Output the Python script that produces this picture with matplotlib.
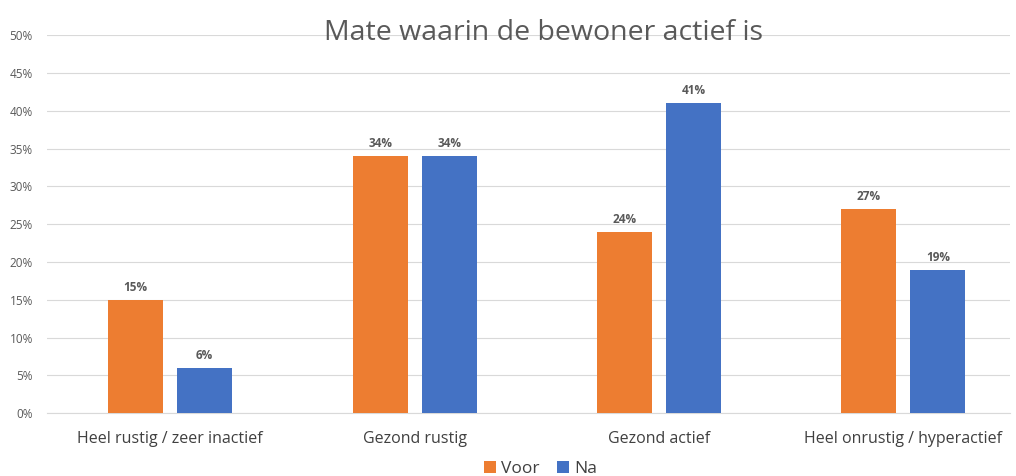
import numpy as np
import matplotlib.pyplot as plt
from matplotlib.ticker import PercentFormatter

categories = ['Heel rustig / zeer inactief', 'Gezond rustig', 'Gezond actief', 'Heel onrustig / hyperactief']
voor = [15, 34, 24, 27]
na = [6, 34, 41, 19]

plt.rcParams['font.family'] = ['Open Sans', 'DejaVu Sans']

fig = plt.figure(figsize=(10.16, 4.76), dpi=100)
ax = fig.add_axes([0.046, 0.132, 0.948, 0.794])

x = np.arange(len(categories))
w = 0.225
off = 0.141
b1 = ax.bar(x - off, voor, w, color='#ED7D31', label='Voor', zorder=3)
b2 = ax.bar(x + off, na, w, color='#4472C4', label='Na', zorder=3)

for bars in (b1, b2):
    for rect in bars:
        h = rect.get_height()
        ax.text(rect.get_x() + rect.get_width() / 2, h + 0.8, '%d%%' % h,
                ha='center', va='bottom', fontsize=8.5, color='#595959', fontweight='bold')

ax.set_xlim(-0.5055, 3.436)
ax.set_ylim(0, 50)
ax.set_yticks(np.arange(0, 51, 5))
ax.yaxis.set_major_formatter(PercentFormatter(decimals=0))
ax.set_xticks(x)
ax.set_xticklabels(categories, fontsize=11.5, color='#404040')
ax.tick_params(axis='y', labelsize=8.5, colors='#595959', length=0, pad=10)
ax.tick_params(axis='x', length=0, pad=13)
ax.grid(axis='y', color='#D9D9D9', linewidth=0.8, zorder=0)
for s in ['top', 'right', 'left']:
    ax.spines[s].set_visible(False)
ax.spines['bottom'].set_color('#D9D9D9')

fig.text(0.535, 0.93, 'Mate waarin de bewoner actief is', ha='center', va='center',
         fontsize=20.5, color='#595959')

fig.legend(handles=[b1, b2], loc='lower center', bbox_to_anchor=(0.532, -0.035), ncol=2,
           frameon=False, fontsize=12.5, handlelength=0.7, handleheight=0.7,
           handletextpad=0.3, columnspacing=1.0, labelcolor='#404040')

fig.savefig('out.png', dpi=100, facecolor='white')
